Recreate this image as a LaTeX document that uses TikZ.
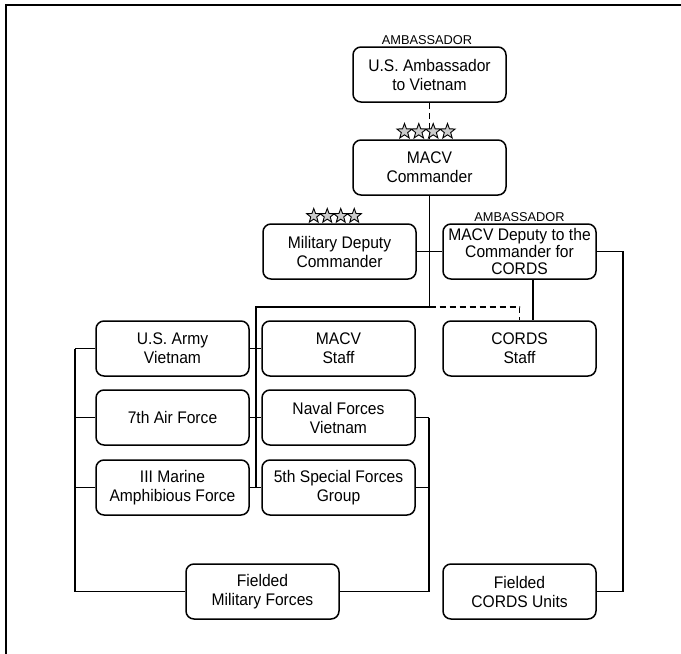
\documentclass[tikz,border=0pt]{standalone}
\usepackage{fontspec}
\setmainfont{Liberation Sans}
\newfontfamily\boxfont{Liberation Sans}[FakeStretch=0.93]
\usetikzlibrary{shapes.geometric,calc}
\begin{document}
\begin{tikzpicture}[x=1pt,y=-1pt,
  box/.style={draw, line width=1.5pt, rounded corners=8pt, minimum width=153pt,
    minimum height=55pt, inner sep=0pt, align=center, fill=white,
    font=\boxfont\fontsize{16.8}{19}\selectfont},
  lbl/.style={font=\fontsize{12.8}{14}\selectfont, inner sep=0pt, anchor=base},
  conn/.style={line width=1.35pt},
  dconn/.style={conn, dash pattern=on 6pt off 4pt},
  starnode/.style={star, star points=5, star point ratio=2.4, draw, fill=gray!40,
    line width=0.9pt, inner sep=0pt, minimum size=15pt}]
\useasboundingbox (0,0) rectangle (681,654);
% frame
\coordinate (fbl) at (6,654);
\coordinate (ftl) at (6,5);
\coordinate (ftr) at (681,5);
\draw[line width=2pt] (fbl) -- (ftl) -- (ftr);

% boxes
\node[box] (amb) at (429.5,74.5) {U.S. Ambassador\\to Vietnam};
\node[box] (cmd) at (429.5,167.5) {MACV\\Commander};
\node[box] (mildep) at (339.5,251.5) {Military Deputy\\Commander};
\node[box, font=\boxfont\fontsize{16.8}{16.7}\selectfont] (cordsdep) at (519.5,251.5) {MACV Deputy to the\\Commander for\\CORDS};
\node[box] (cordsstaff) at (519.5,348.5) {CORDS\\Staff};
\node[box] (army) at (172.5,348.5) {U.S. Army\\Vietnam};
\node[box] (macvstaff) at (338.5,348.5) {MACV\\Staff};
\node[box] (af7) at (172.5,417.5) {7th Air Force};
\node[box] (naval) at (338.5,417.5) {Naval Forces\\Vietnam};
\node[box] (marine) at (172.5,487.5) {III Marine\\Amphibious Force};
\node[box] (sf5) at (338.5,487.5) {5th Special Forces\\Group};
\node[box] (fmf) at (262.5,591.5) {Fielded\\Military Forces};
\node[box] (fcu) at (519.5,591.5) {Fielded\\CORDS Units};

% labels
\node[lbl] (amblbl) at (427,44) {AMBASSADOR};
\node[lbl] (cordslbl) at (519.5,221) {AMBASSADOR};

% coordinates for buses
\coordinate (hub) at (429.5,307);
\coordinate (lb) at (256,307);
\coordinate (lx) at (75,0);
\coordinate (rb) at (429,0);
\coordinate (cx) at (623,0);

% connectors
\draw[dconn] (amb.south) -- (cmd.north);
\draw[conn] (cmd.south) -- (hub);
\draw[conn] (mildep.east) -- (cordsdep.west);
\draw[conn] (hub) -- (lb) -- (lb |- marine.east);
\draw[dconn] (hub) -- (hub -| cordsstaff.north) -- (cordsstaff.north);
\draw[conn] ([xshift=13.5pt]cordsdep.south) -- ([xshift=13.5pt]cordsstaff.north);
\draw[conn] (cordsdep.east) -- (cordsdep.east -| cx) |- (fcu.east);

\draw[conn] (army.east) -- (macvstaff.west);
\draw[conn] (af7.east) -- (naval.west);
\draw[conn] (marine.east) -- (sf5.west);

\draw[conn] (army.west) -- (army.west -| lx);
\draw[conn] (af7.west) -- (af7.west -| lx);
\draw[conn] (marine.west) -- (marine.west -| lx);
\draw[conn] (army.west -| lx) |- (fmf.west);

\draw[conn] (naval.east) -- (naval.east -| rb);
\draw[conn] (sf5.east) -- (sf5.east -| rb);
\draw[conn] (naval.east -| rb) |- (fmf.east);

% stars
\foreach \i/\x in {1/404.5,2/418.8,3/433.2,4/447.5}
  \node[starnode, minimum size=16pt] (cs\i) at (\x,131.5) {};
\foreach \i/\x in {1/313.75,2/327.25,3/340.75,4/354.25}
  \node[starnode] (ms\i) at (\x,216) {};
\end{tikzpicture}
\end{document}
